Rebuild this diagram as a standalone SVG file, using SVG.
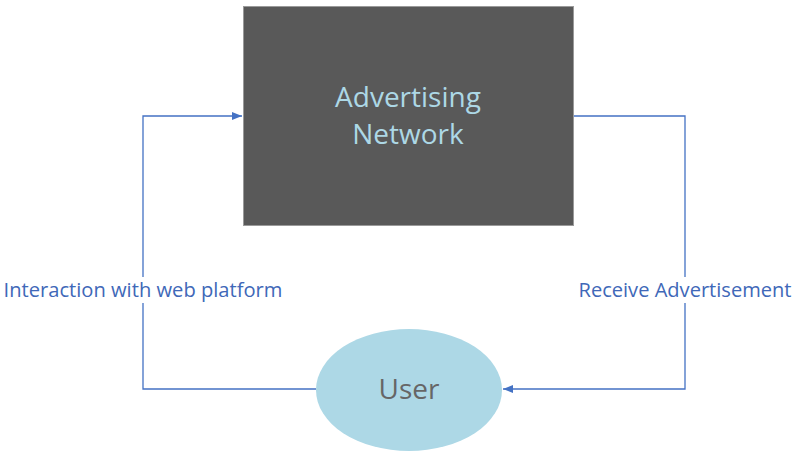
<svg xmlns="http://www.w3.org/2000/svg" width="796" height="456" viewBox="0 0 796 456">
<defs>
<style>
.conn{fill:none;stroke:#4472C4;stroke-width:1.3}
.lbl{font-family:"Open Sans","Liberation Sans",sans-serif;font-size:20px;fill:#4068B8;text-anchor:middle}
.big{font-family:"Open Sans","Liberation Sans",sans-serif;font-size:28px;text-anchor:middle}
</style>
<marker id="arr" viewBox="0 0 10 10" refX="10" refY="5" markerWidth="10" markerHeight="10" markerUnits="userSpaceOnUse" orient="auto">
<path d="M0,1 L10,5 L0,9 Z" fill="#4472C4"/>
</marker>
</defs>
<rect width="796" height="456" fill="#ffffff"/>
<g id="connectors">
<path class="conn" d="M316,389 H143 V116 H242" marker-end="url(#arr)"/>
<path class="conn" d="M574,116 H685 V389 H503" marker-end="url(#arr)"/>
<g id="label-interaction">
<rect x="0" y="277" width="290" height="26" fill="#ffffff"/>
<text class="lbl" x="143" y="297" textLength="279" lengthAdjust="spacingAndGlyphs">Interaction with web platform</text>
</g>
<g id="label-receive">
<rect x="576" y="277" width="220" height="26" fill="#ffffff"/>
<text class="lbl" x="685" y="297" textLength="213" lengthAdjust="spacingAndGlyphs">Receive Advertisement</text>
</g>
</g>
<g id="node-network">
<rect x="243.5" y="6.5" width="330" height="219" fill="#595959" stroke="#9a9a9a" stroke-width="1"/>
<text class="big" x="408" y="107" fill="#ADD8E6">Advertising</text>
<text class="big" x="408" y="144" fill="#ADD8E6">Network</text>
</g>
<g id="node-user">
<ellipse cx="409" cy="390" rx="93" ry="61" fill="#ADD8E6"/>
<text class="big" x="409" y="399" fill="#666666">User</text>
</g>
</svg>
